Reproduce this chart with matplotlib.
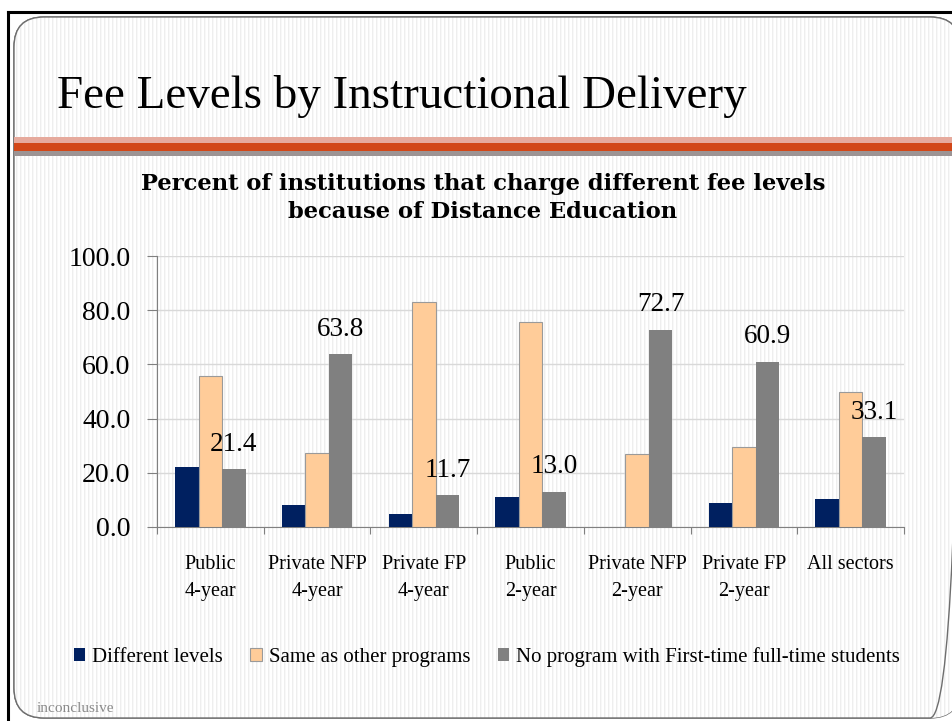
import numpy as np
import matplotlib
matplotlib.use("Agg")
import matplotlib.pyplot as plt
from matplotlib.patches import FancyBboxPatch, Rectangle, Patch

# ----------------------------------------------------------------------
# Data
# ----------------------------------------------------------------------
categories = ["Public\n4-year", "Private NFP\n4-year", "Private FP\n4-year",
              "Public\n2-year", "Private NFP\n2-year", "Private FP\n2-year",
              "All sectors"]
different_levels = [22.3, 8.1, 4.7, 11.0, 0.0, 9.0, 10.4]
same_as_other = [55.6, 27.2, 83.0, 75.5, 26.9, 29.4, 49.7]
no_program = [21.4, 63.8, 11.7, 13.0, 72.7, 60.9, 33.1]
series_names = ["Different levels", "Same as other programs",
                "No program with First-time full-time students"]
y_ticks = [0, 20, 40, 60, 80, 100]

NAVY = "#002060"
PEACH = "#FFCC99"
GRAY = "#808080"
SERIF = ["Liberation Serif", "DejaVu Serif"]

W, H = 953, 721
fig = plt.figure(figsize=(W / 100, H / 100), dpi=100, facecolor="white")

# ----------------------------------------------------------------------
# Slide background (pixel coordinates, y pointing down)
# ----------------------------------------------------------------------
bg = fig.add_axes([0, 0, 1, 1])
bg.set_xlim(0, W)
bg.set_ylim(H, 0)
bg.axis("off")

slide = FancyBboxPatch((14, 17), 946, 701, boxstyle="round,pad=0,rounding_size=30",
                       facecolor="white", edgecolor="#6e6e6e", linewidth=1.0, zorder=1)
bg.add_patch(slide)

xs = np.arange(W)
stripe = np.where(xs % 4 == 0, 0.93, np.where(xs % 4 == 1, 0.97, 1.0))
img = bg.imshow(np.tile(stripe, (H, 1)), cmap="gray", vmin=0, vmax=1,
                extent=(0, W, H, 0), interpolation="nearest", zorder=1.5, aspect="auto")
img.set_clip_path(slide)
slide_edge = FancyBboxPatch((14, 17), 946, 701, boxstyle="round,pad=0,rounding_size=30",
                            facecolor="none", edgecolor="#6e6e6e", linewidth=1.0, zorder=2)
bg.add_patch(slide_edge)

# colour bands under the title
bg.add_patch(Rectangle((14, 137), W, 6, facecolor="#E6AA9D", edgecolor="none", zorder=3))
bg.add_patch(Rectangle((14, 143), W, 8, facecolor="#D24718", edgecolor="none", zorder=3))
bg.add_patch(Rectangle((14, 151), W, 5, facecolor="#9C9494", edgecolor="none", zorder=3))

# outer black frame
bg.plot([8.5, 8.5], [11.5, H], color="black", lw=2.2, zorder=4)
bg.plot([8.5, W], [11.5, 11.5], color="black", lw=2.2, zorder=4)

bg.text(57, 97, "Fee Levels by Instructional Delivery", fontsize=33.8, family=SERIF,
        ha="left", va="center", color="black", zorder=5)
bg.text(483, 198, "Percent of institutions that charge different fee levels\n"
        "because of Distance Education", fontsize=16.3,
        family=["DejaVu Serif"], weight="bold",
        ha="center", va="center", linespacing=1.35, zorder=5)
bg.text(37, 709, "inconclusive", fontsize=11, family=SERIF, color="#8a8a8a",
        ha="left", va="center", zorder=5)

# ----------------------------------------------------------------------
# Chart
# ----------------------------------------------------------------------
ax = fig.add_axes([157 / W, 1 - 527 / H, (904 - 157) / W, (527 - 256) / H])
ax.set_facecolor("none")

x = np.arange(len(categories))
w = 0.22
ax.bar(x - w, different_levels, w, color=NAVY, zorder=3)
ax.bar(x, same_as_other, w, color=PEACH, edgecolor="#9a9a9a", linewidth=0.8, zorder=3)
ax.bar(x + w, no_program, w, color=GRAY, zorder=3)

for xi, v in zip(x + w, no_program):
    ax.annotate(f"{v:.1f}", (xi, v), xytext=(0, 25), textcoords="offset pixels",
                ha="center", va="center", fontsize=19.5, family=SERIF, zorder=4)

ax.set_xlim(-0.5, len(categories) - 0.5)
ax.set_ylim(0, 100)
ax.set_yticks(y_ticks)
ax.set_yticklabels([f"{t:.1f}" for t in y_ticks], fontsize=20, family=SERIF)
ax.yaxis.grid(True, color="#D9D9D9", linewidth=1.0, zorder=0)
ax.tick_params(axis="y", length=7, width=0.8, color=GRAY, pad=12)

ax.set_xticks(x)
ax.set_xticklabels(categories, fontsize=14.5, family=SERIF, linespacing=1.6)
ax.set_xticks(np.arange(-0.5, len(categories)), minor=True)
ax.tick_params(axis="x", which="major", length=0, pad=20)
ax.tick_params(axis="x", which="minor", length=5, width=0.8, color=GRAY)

for side in ["top", "right"]:
    ax.spines[side].set_visible(False)
for side in ["left", "bottom"]:
    ax.spines[side].set_color(GRAY)
    ax.spines[side].set_linewidth(0.8)

handles = [Patch(facecolor=NAVY), Patch(facecolor=PEACH, edgecolor="#9a9a9a", linewidth=0.8),
           Patch(facecolor=GRAY)]
fig.legend(handles, series_names, loc="center", bbox_to_anchor=(487 / W, 1 - 657 / H),
           ncol=3, frameon=False, prop={"family": SERIF, "size": 15},
           handlelength=0.55, handleheight=0.55, handletextpad=0.35, columnspacing=1.3)

plt.savefig("out.png", dpi=100, facecolor="white")
